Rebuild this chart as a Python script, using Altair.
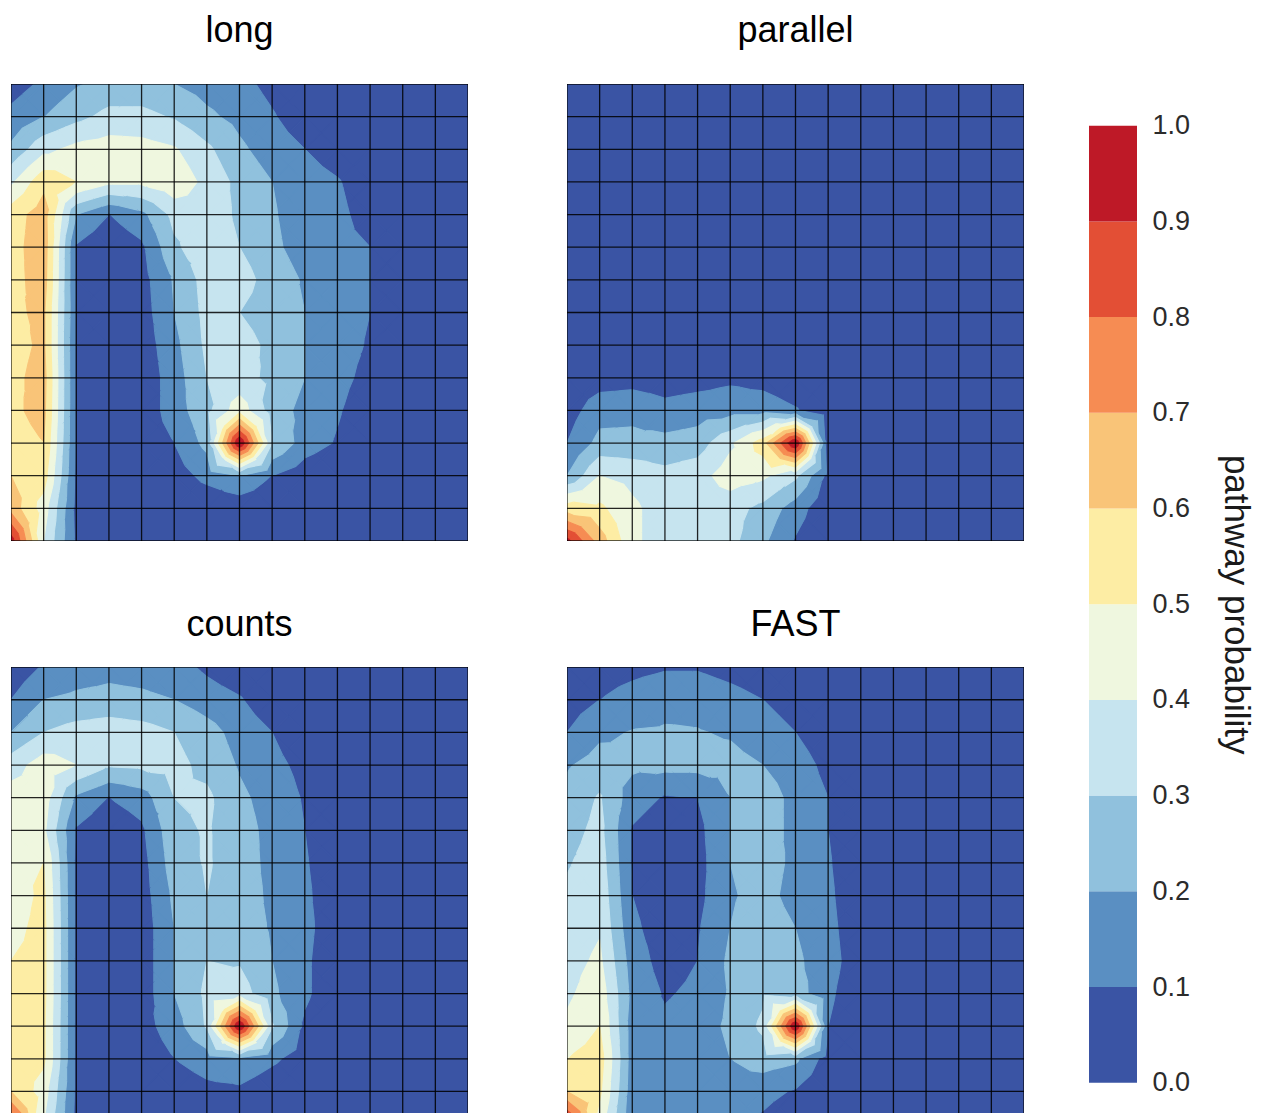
import altair as alt
import pandas as pd

FONT = "Liberation Sans"

# contour levels and fill colours (0.0-0.1 ... 0.9-1.0)
LEVELS = [0.0, 0.1, 0.2, 0.3, 0.4, 0.5, 0.6, 0.7, 0.8, 0.9, 1.0]
COLORS = ["#3a54a4", "#5a8fc2", "#90c1dd", "#c6e4ef", "#eff7df",
          "#fdeda4", "#f9c478", "#f68c53", "#e34f35", "#be1927"]

# node values (15 x 15 grid, row 0 = top)
LONG = [
    [0.05, 0.12, 0.19, 0.23, 0.23, 0.20, 0.16, 0.13, 0.07, 0.02, 0, 0, 0, 0, 0],
    [0.13, 0.20, 0.27, 0.33, 0.33, 0.29, 0.22, 0.17, 0.11, 0.04, 0, 0, 0, 0, 0],
    [0.22, 0.37, 0.43, 0.45, 0.44, 0.41, 0.32, 0.22, 0.15, 0.10, 0.04, 0, 0, 0, 0],
    [0.38, 0.57, 0.50, 0.42, 0.42, 0.47, 0.37, 0.27, 0.20, 0.15, 0.11, 0.03, 0, 0, 0],
    [0.55, 0.65, 0.20, 0.10, 0.17, 0.33, 0.36, 0.28, 0.21, 0.15, 0.13, 0.05, 0, 0, 0],
    [0.56, 0.66, 0.09, 0.02, 0.08, 0.28, 0.37, 0.30, 0.22, 0.16, 0.13, 0.10, 0.03, 0, 0],
    [0.56, 0.65, 0.09, 0.02, 0.06, 0.21, 0.34, 0.35, 0.25, 0.19, 0.14, 0.10, 0.02, 0, 0],
    [0.58, 0.62, 0.10, 0.02, 0.05, 0.20, 0.33, 0.30, 0.24, 0.20, 0.14, 0.10, 0.02, 0, 0],
    [0.56, 0.62, 0.09, 0.02, 0.04, 0.17, 0.32, 0.35, 0.27, 0.20, 0.14, 0.09, 0, 0, 0],
    [0.57, 0.64, 0.09, 0.02, 0.03, 0.15, 0.30, 0.33, 0.28, 0.20, 0.13, 0.07, 0, 0, 0],
    [0.58, 0.63, 0.09, 0.02, 0.03, 0.15, 0.27, 0.46, 0.25, 0.17, 0.11, 0.04, 0, 0, 0],
    [0.56, 0.60, 0.09, 0.02, 0.03, 0.10, 0.23, 1.00, 0.30, 0.15, 0.09, 0.03, 0, 0, 0],
    [0.60, 0.55, 0.08, 0.02, 0.02, 0.05, 0.13, 0.20, 0.10, 0.04, 0, 0, 0, 0, 0],
    [0.66, 0.45, 0.07, 0.02, 0, 0, 0.02, 0.03, 0.01, 0, 0, 0, 0, 0, 0],
    [0.95, 0.40, 0.08, 0.01, 0, 0, 0, 0, 0, 0, 0, 0, 0, 0, 0],
]

PARALLEL = [
    [0, 0, 0, 0, 0, 0, 0, 0, 0, 0, 0, 0, 0, 0, 0],
    [0, 0, 0, 0, 0, 0, 0, 0, 0, 0, 0, 0, 0, 0, 0],
    [0, 0, 0, 0, 0, 0, 0, 0, 0, 0, 0, 0, 0, 0, 0],
    [0, 0, 0, 0, 0, 0, 0, 0, 0, 0, 0, 0, 0, 0, 0],
    [0, 0, 0, 0, 0, 0, 0, 0, 0, 0, 0, 0, 0, 0, 0],
    [0, 0, 0, 0, 0, 0, 0, 0, 0, 0, 0, 0, 0, 0, 0],
    [0, 0, 0, 0, 0, 0, 0, 0, 0, 0, 0, 0, 0, 0, 0],
    [0, 0, 0, 0, 0, 0, 0, 0, 0, 0, 0, 0, 0, 0, 0],
    [0, 0, 0, 0, 0, 0, 0, 0, 0, 0, 0, 0, 0, 0, 0],
    [0.02, 0.05, 0.06, 0.05, 0.06, 0.08, 0.06, 0.02, 0, 0, 0, 0, 0, 0, 0],
    [0.05, 0.16, 0.17, 0.13, 0.15, 0.16, 0.16, 0.11, 0.02, 0, 0, 0, 0, 0, 0],
    [0.10, 0.23, 0.23, 0.23, 0.25, 0.38, 0.55, 1.00, 0.05, 0, 0, 0, 0, 0, 0],
    [0.20, 0.40, 0.37, 0.33, 0.36, 0.45, 0.42, 0.32, 0.07, 0, 0, 0, 0, 0, 0],
    [0.55, 0.52, 0.42, 0.35, 0.34, 0.34, 0.27, 0.15, 0.02, 0, 0, 0, 0, 0, 0],
    [0.93, 0.65, 0.42, 0.35, 0.33, 0.33, 0.22, 0.09, 0, 0, 0, 0, 0, 0, 0],
]

COUNTS = [
    [0.03, 0.11, 0.15, 0.17, 0.16, 0.14, 0.08, 0.03, 0, 0, 0, 0, 0, 0, 0],
    [0.10, 0.20, 0.22, 0.23, 0.22, 0.20, 0.15, 0.11, 0.03, 0, 0, 0, 0, 0, 0],
    [0.20, 0.30, 0.34, 0.36, 0.34, 0.30, 0.24, 0.16, 0.10, 0.03, 0, 0, 0, 0, 0],
    [0.35, 0.45, 0.40, 0.31, 0.32, 0.33, 0.27, 0.19, 0.13, 0.07, 0, 0, 0, 0, 0],
    [0.45, 0.45, 0.18, 0.10, 0.15, 0.30, 0.32, 0.22, 0.16, 0.09, 0, 0, 0, 0, 0],
    [0.46, 0.42, 0.09, 0.02, 0.08, 0.27, 0.31, 0.24, 0.17, 0.10, 0.02, 0, 0, 0, 0],
    [0.48, 0.50, 0.08, 0.02, 0.06, 0.25, 0.31, 0.25, 0.17, 0.11, 0.03, 0, 0, 0, 0],
    [0.45, 0.52, 0.08, 0.02, 0.05, 0.22, 0.30, 0.25, 0.18, 0.12, 0.03, 0, 0, 0, 0],
    [0.47, 0.53, 0.08, 0.02, 0.04, 0.20, 0.30, 0.25, 0.19, 0.13, 0.03, 0, 0, 0, 0],
    [0.50, 0.53, 0.08, 0.02, 0.04, 0.20, 0.30, 0.29, 0.20, 0.12, 0.02, 0, 0, 0, 0],
    [0.52, 0.53, 0.08, 0.02, 0.04, 0.20, 0.32, 0.35, 0.22, 0.12, 0.02, 0, 0, 0, 0],
    [0.55, 0.52, 0.08, 0.02, 0.06, 0.15, 0.31, 1.00, 0.31, 0.08, 0, 0, 0, 0, 0],
    [0.56, 0.52, 0.08, 0.02, 0.03, 0.10, 0.15, 0.18, 0.12, 0.05, 0, 0, 0, 0, 0],
    [0.60, 0.45, 0.08, 0.02, 0.01, 0.03, 0.07, 0.08, 0.03, 0, 0, 0, 0, 0, 0],
    [0.90, 0.40, 0.07, 0.01, 0, 0, 0, 0, 0, 0, 0, 0, 0, 0, 0],
]

FAST = [
    [0.03, 0.05, 0.07, 0.09, 0.09, 0.06, 0.03, 0, 0, 0, 0, 0, 0, 0, 0],
    [0.05, 0.10, 0.14, 0.17, 0.17, 0.14, 0.10, 0.05, 0, 0, 0, 0, 0, 0, 0],
    [0.10, 0.18, 0.205, 0.21, 0.205, 0.19, 0.15, 0.10, 0.03, 0, 0, 0, 0, 0, 0],
    [0.19, 0.24, 0.22, 0.23, 0.23, 0.23, 0.20, 0.15, 0.07, 0, 0, 0, 0, 0, 0],
    [0.23, 0.31, 0.15, 0.09, 0.10, 0.20, 0.25, 0.17, 0.10, 0.02, 0, 0, 0, 0, 0],
    [0.26, 0.33, 0.09, 0.03, 0.07, 0.20, 0.25, 0.17, 0.10, 0.02, 0, 0, 0, 0, 0],
    [0.29, 0.35, 0.09, 0.03, 0.06, 0.20, 0.24, 0.18, 0.11, 0.02, 0, 0, 0, 0, 0],
    [0.32, 0.37, 0.10, 0.04, 0.07, 0.19, 0.23, 0.17, 0.12, 0.02, 0, 0, 0, 0, 0],
    [0.34, 0.39, 0.12, 0.05, 0.09, 0.20, 0.25, 0.20, 0.13, 0.03, 0, 0, 0, 0, 0],
    [0.36, 0.42, 0.15, 0.06, 0.10, 0.22, 0.26, 0.22, 0.14, 0.04, 0, 0, 0, 0, 0],
    [0.38, 0.46, 0.17, 0.09, 0.12, 0.21, 0.28, 0.25, 0.12, 0.03, 0, 0, 0, 0, 0],
    [0.42, 0.50, 0.15, 0.12, 0.15, 0.22, 0.32, 1.00, 0.10, 0.02, 0, 0, 0, 0, 0],
    [0.50, 0.55, 0.15, 0.13, 0.13, 0.20, 0.25, 0.22, 0.05, 0, 0, 0, 0, 0, 0],
    [0.60, 0.52, 0.14, 0.13, 0.14, 0.15, 0.13, 0.09, 0.02, 0, 0, 0, 0, 0, 0],
    [0.95, 0.45, 0.12, 0.12, 0.12, 0.12, 0.08, 0.03, 0, 0, 0, 0, 0, 0, 0],
]

PANELS = [("long", LONG), ("parallel", PARALLEL), ("counts", COUNTS), ("FAST", FAST)]


def band_of(v):
    return min(int(v * 10 + 1e-9), 9)


def clip(poly, t, keep_above):
    out = []
    n = len(poly)
    for i in range(n):
        p = poly[i]
        q = poly[(i + 1) % n]
        pin = p[2] >= t if keep_above else p[2] <= t
        qin = q[2] >= t if keep_above else q[2] <= t
        if pin:
            out.append(p)
        if pin != qin:
            f = (t - p[2]) / (q[2] - p[2])
            out.append((p[0] + f * (q[0] - p[0]), p[1] + f * (q[1] - p[1]), t))
    return out


def feature(poly, k):
    ring = [[round(p[0], 4), round(p[1], 4)] for p in poly]
    ring.append(ring[0])
    return {"type": "Feature",
            "geometry": {"type": "Polygon", "coordinates": [ring]},
            "properties": {"col": COLORS[k]}}


def band_features(V):
    feats = []
    n = len(V)
    for r in range(n - 1):
        for c in range(n - 1):
            a = (c, r, V[r][c])
            b = (c + 1, r, V[r][c + 1])
            d = (c + 1, r + 1, V[r + 1][c + 1])
            e = (c, r + 1, V[r + 1][c])
            vals = [a[2], b[2], d[2], e[2]]
            bands = [band_of(v) for v in vals]
            if min(bands) == max(bands):
                feats.append(feature([a, b, d, e], bands[0]))
                continue
            m = (c + 0.5, r + 0.5, sum(vals) / 4.0)
            for tri in [(a, b, m), (b, d, m), (d, e, m), (e, a, m)]:
                tb = [band_of(p[2]) for p in tri]
                for k in range(min(tb), max(tb) + 1):
                    poly = list(tri)
                    if k > 0:
                        poly = clip(poly, LEVELS[k], True)
                    if k < 9 and len(poly) >= 3:
                        poly = clip(poly, LEVELS[k + 1], False)
                    if len(poly) >= 3:
                        feats.append(feature(poly, k))
    return feats


def grid_features(n):
    feats = []
    for i in range(n):
        feats.append({"type": "Feature", "properties": {},
                      "geometry": {"type": "LineString", "coordinates": [[i, 0], [i, n - 1]]}})
        feats.append({"type": "Feature", "properties": {},
                      "geometry": {"type": "LineString", "coordinates": [[0, i], [n - 1, i]]}})
    return feats


SIZE = 457
UNIT = SIZE / 14.0


def panel(title, V, offset, view_h):
    fills = alt.Chart(alt.Data(values=band_features(V))).mark_geoshape(
        strokeWidth=1.1, clip=True
    ).encode(
        color=alt.Color("properties.col:N", scale=None),
        stroke=alt.Stroke("properties.col:N", scale=None),
    )
    grid = alt.Chart(alt.Data(values=grid_features(len(V)))).mark_geoshape(
        filled=False, strokeWidth=1.3, strokeOpacity=0.85, clip=True
    ).encode(stroke=alt.value("black"))
    return alt.layer(fills, grid).project(
        type="identity", scale=UNIT, translate=[0, 0]
    ).properties(
        width=SIZE, height=view_h,
        title=alt.TitleParams(title, fontSize=36, font=FONT, fontWeight="normal",
                              color="black", offset=offset, baseline="bottom"),
    )


top = alt.hconcat(panel(PANELS[0][0], PANELS[0][1], -2.0, SIZE),
                  panel(PANELS[1][0], PANELS[1][1], -2.0, SIZE), spacing=99)
bottom = alt.hconcat(panel(PANELS[2][0], PANELS[2][1], -12.4, 446),
                     panel(PANELS[3][0], PANELS[3][1], -12.4, 446), spacing=99)
grid_block = alt.vconcat(top, bottom, spacing=65.1)

cb = pd.DataFrame({"lo": LEVELS[:-1], "hi": LEVELS[1:], "col": COLORS})
colorbar = alt.Chart(cb).mark_rect().encode(
    y=alt.Y("lo:Q",
            scale=alt.Scale(domain=[0, 1], range=[998.7, 41.7], nice=False, zero=False),
            axis=alt.Axis(orient="right", values=LEVELS, format=".1f",
                          title="pathway probability", domain=False, ticks=True,
                          tickSize=0, grid=False, labelPadding=15,
                          labelFontSize=27, labelFont=FONT, labelColor="#2b2b2b",
                          titleFontSize=35, titleFont=FONT, titleFontWeight="normal",
                          titleColor="#1a1a1a", titlePadding=28)),
    y2="hi:Q",
    x=alt.value(0),
    x2=alt.value(48),
    color=alt.Color("col:N", scale=None),
).properties(width=48, height=1000)

chart = alt.hconcat(grid_block, colorbar, spacing=65).properties(
    padding={"left": 3, "top": 5, "right": 0, "bottom": 0},
    background="white",
).configure_view(strokeWidth=0, stroke="transparent")

chart.save("out.html", embed_options={"renderer": "svg", "actions": False})
